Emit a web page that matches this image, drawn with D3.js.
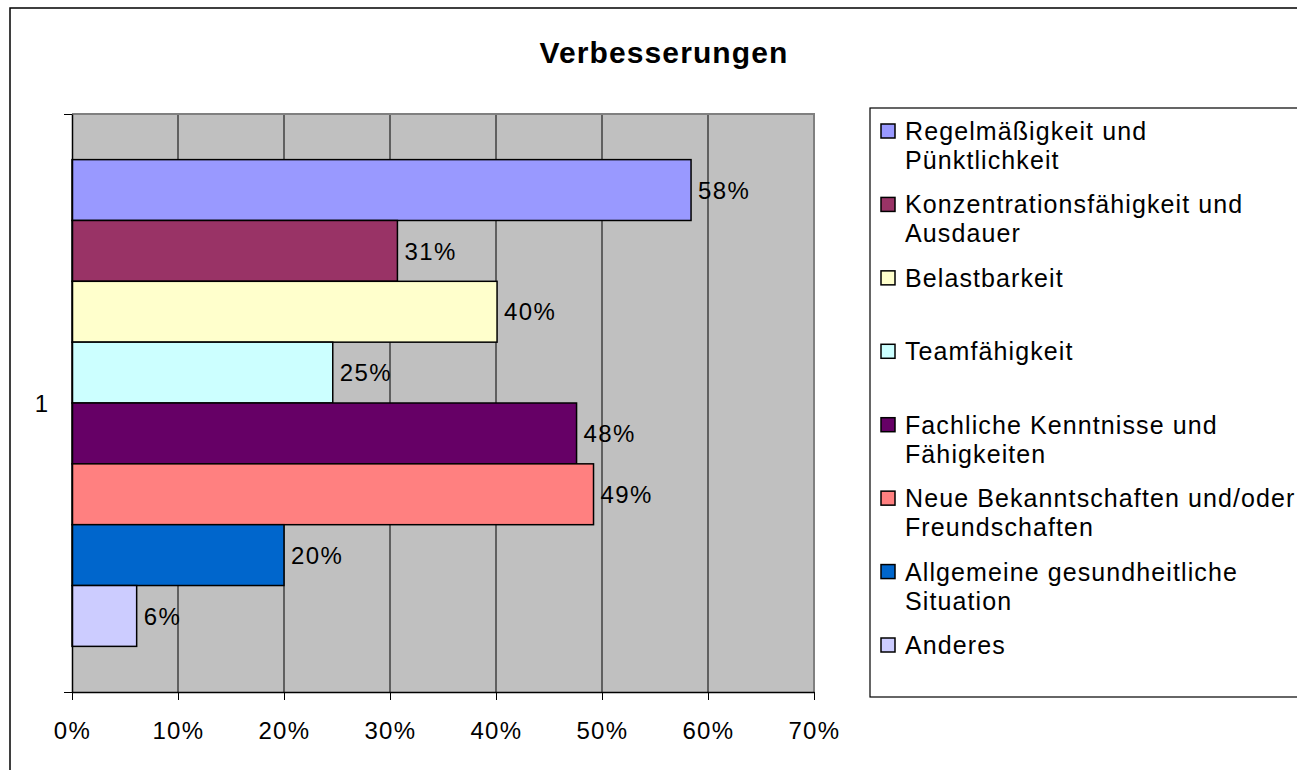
<!DOCTYPE html>
<html>
<head>
<meta charset="utf-8">
<script src="https://cdn.jsdelivr.net/npm/d3@7"></script>
<style>
  body { margin: 0; background: #fff; }
  svg { display: block; font-family: "Liberation Sans", Arial, sans-serif; }
</style>
</head>
<body>
<svg id="chart" width="1297" height="770"></svg>
<script>
'use strict';
// data
var categories = ['1'];
var seriesNames = [
  'Regelmäßigkeit und\nPünktlichkeit',
  'Konzentrationsfähigkeit und\nAusdauer',
  'Belastbarkeit',
  'Teamfähigkeit',
  'Fachliche Kenntnisse und\nFähigkeiten',
  'Neue Bekanntschaften und/oder\nFreundschaften',
  'Allgemeine gesundheitliche\nSituation',
  'Anderes'
];
var seriesValues = [0.584, 0.307, 0.401, 0.246, 0.476, 0.492, 0.20, 0.061];
var seriesColors = ['#9999FF', '#993366', '#FFFFCC', '#CCFFFF', '#660066', '#FF8080', '#0066CC', '#CCCCFF'];
var xTicks = [0, 0.1, 0.2, 0.3, 0.4, 0.5, 0.6, 0.7];

var svg = d3.select('#chart');
var plot = { left: 72, right: 814, top: 114, bottom: 692 };

// outer frame
svg.append('rect').attr('x', 10).attr('y', 8).attr('width', 1400).attr('height', 900)
  .attr('fill', '#fff').attr('stroke', '#000').attr('stroke-width', 1.5);

svg.append('text').attr('x', 664).attr('y', 63).attr('text-anchor', 'middle')
  .attr('font-size', 30).attr('font-weight', 'bold').attr('letter-spacing', 1.1)
  .text('Verbesserungen');

var x = d3.scaleLinear().domain([0, 0.7]).range([plot.left, plot.right]);
var yCat = d3.scaleBand().domain(categories).range([plot.top, plot.bottom])
  .paddingInner(0).paddingOuter(0.09375);
var ySer = d3.scaleBand().domain(d3.range(seriesNames.length)).range([0, yCat.bandwidth()]);

// plot area
svg.append('rect').attr('x', plot.left).attr('y', plot.top)
  .attr('width', plot.right - plot.left).attr('height', plot.bottom - plot.top)
  .attr('fill', '#C0C0C0');

svg.append('g').selectAll('line').data(xTicks.slice(1, -1)).join('line')
  .attr('x1', function(d) { return x(d); }).attr('x2', function(d) { return x(d); })
  .attr('y1', plot.top).attr('y2', plot.bottom)
  .attr('stroke', '#000').attr('stroke-width', 1);

svg.append('path')
  .attr('d', 'M' + plot.left + ',' + plot.top + 'H' + plot.right + 'V' + plot.bottom)
  .attr('fill', 'none').attr('stroke', '#808080').attr('stroke-width', 2);

// bars
var bars = svg.append('g').attr('transform', 'translate(0,' + yCat('1') + ')');
bars.selectAll('rect').data(seriesValues).join('rect')
  .attr('x', x(0))
  .attr('y', function(d, i) { return ySer(i); })
  .attr('width', function(d) { return x(d) - x(0); })
  .attr('height', ySer.bandwidth())
  .attr('fill', function(d, i) { return seriesColors[i]; })
  .attr('stroke', '#000').attr('stroke-width', 1.5);

bars.selectAll('text').data(seriesValues).join('text')
  .attr('x', function(d) { return x(d) + 7; })
  .attr('y', function(d, i) { return ySer(i) + ySer.bandwidth() / 2; })
  .attr('dy', '0.36em')
  .attr('font-size', 24).attr('letter-spacing', 1.4)
  .text(function(d) { return d3.format('.0%')(d); });

// x axis
var xAxis = svg.append('g').attr('transform', 'translate(0,' + plot.bottom + ')')
  .call(d3.axisBottom(x).tickValues(xTicks).tickFormat(d3.format('.0%'))
    .tickSize(8).tickPadding(22).tickSizeOuter(0));
xAxis.select('.domain').attr('stroke', '#000').attr('stroke-width', 1.5);
xAxis.selectAll('text').attr('font-size', 24).attr('letter-spacing', 1.4)
  .attr('font-family', '"Liberation Sans", Arial, sans-serif').attr('fill', '#000');

// y axis
var yEdge = d3.scaleLinear().domain([0, 1]).range([plot.bottom, plot.top]);
var yAxis = svg.append('g').attr('transform', 'translate(' + plot.left + ',0)')
  .call(d3.axisLeft(yEdge).tickValues([0, 1]).tickFormat('').tickSize(8).tickSizeOuter(0));
yAxis.select('.domain').attr('stroke', '#000').attr('stroke-width', 1.5);
yAxis.selectAll('line').attr('stroke', '#000');

svg.append('text').attr('x', 48).attr('y', yCat('1') + yCat.bandwidth() / 2)
  .attr('dy', '0.36em').attr('text-anchor', 'end')
  .attr('font-size', 24).text(categories[0]);

// legend
svg.append('rect').attr('x', 870).attr('y', 108).attr('width', 600).attr('height', 589)
  .attr('fill', '#fff').attr('stroke', '#000').attr('stroke-width', 1.2);

var legY = d3.scaleLinear().domain([0, seriesNames.length - 1]).range([131, 645]);
var leg = svg.append('g').selectAll('g').data(seriesNames).join('g')
  .attr('transform', function(d, i) { return 'translate(881,' + legY(i) + ')'; });
leg.append('rect').attr('x', 0).attr('y', -7).attr('width', 14).attr('height', 14)
  .attr('fill', function(d, i) { return seriesColors[i]; })
  .attr('stroke', '#000').attr('stroke-width', 1.5);
leg.append('text').attr('x', 24).attr('font-size', 25).attr('letter-spacing', 1.1)
  .each(function(d) {
    var t = d3.select(this);
    d.split('\n').forEach(function(line, k) {
      t.append('tspan').attr('x', 24).attr('y', k * 29).attr('dy', '0.36em').text(line);
    });
  });
</script>
</body>
</html>
